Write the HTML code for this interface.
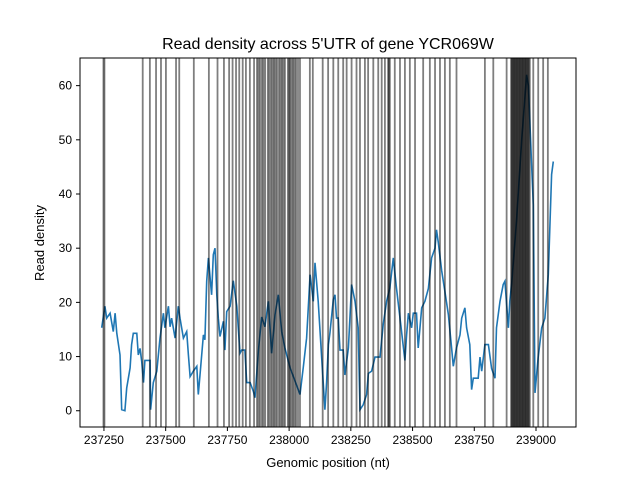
<!DOCTYPE html>
<html><head><meta charset="utf-8"><style>
body{margin:0;background:#fff;}
svg text{font-family:"Liberation Sans","DejaVu Sans",sans-serif;fill:#000;}
</style></head><body>
<svg id="chart" width="640" height="480" xmlns="http://www.w3.org/2000/svg">
<rect width="640" height="480" fill="#fff"/>
<text x="328" y="49" font-size="16" text-anchor="middle">Read density across 5'UTR of gene YCR069W</text>
<text x="328" y="467" font-size="13" text-anchor="middle">Genomic position (nt)</text>
<text transform="translate(44,243) rotate(-90)" font-size="13" text-anchor="middle">Read density</text>
<g id="plot"></g>
</svg>
<script>
const xTicks=[237250,237500,237750,238000,238250,238500,238750,239000];
const yTicks=[0,10,20,30,40,50,60];
const zoomA=[65,75,80,90,100,105,110,120,125,135,140,150,155,160,170,175,180,185,190,195,210,212,220,230,240,250,255,265,270,275,280,285,295,300,310,320,325,330,340,350,355,360,365,370,375,380,385,395,400,405,410,415,420,430,435,440,450,460,470,480,485,495,500,510,520,525,535,545,555,565,575,585,595,605,615,630,645,660,670,680,690,700,705,715,725,735];
const densA=[15.3,19.3,17.1,18,14.6,18,14.3,10.3,0.2,0,4.2,7.9,12.2,14.3,14.3,10.3,11.5,9.1,5.2,9.3,9.3,0.2,5.2,7.3,13.4,18,15.3,19.3,15.5,17.1,15.3,13.4,19.3,17.1,13.4,14.6,10.3,6.3,7.3,8.2,3,6.6,10.3,14,13.1,23.9,28.2,21.4,28.8,30,21.4,17.1,13.7,16.5,11.2,18.3,19.3,24,19.3,10.6,11.2,11.2,5.2,5.2,3.6,2.4,10.9,17.3,15.5,20.2,10.6,17.7,21.4,14.6,11.6,7.9,5.5,3,8.2,13.4,25.1,20.2,27.3,20.2,9.7,0.2];
const zoomB=[5,10,15,25,30,35,40,45,55,60,70,80,90,100,105,115,125,130,140,150,165,175,185,195,205,215,225,240,245,250,260,265,275,280,290,300,310,320,330,335,340,350,360,370,380,385,395,405,410,420,425,435,440,445,460,465,470,480,490,500,510,515,525,535,540,550,555,560,575,590,605,610,620,625,630,640,650,660,670,680,685];
const densB=[5.2,12.2,14.3,20.5,21.4,17.1,17.1,11.2,11.2,6.6,11.6,23.3,20.2,15.3,0.2,1.1,3,6.9,7.3,9.9,9.9,15.9,20.2,22.6,28.2,22.6,17.1,9.3,14,18,15.3,18,18,11.6,19,20.2,22.6,28.2,30,33.4,31.2,25.8,22,17.7,11.6,8.2,11.6,14,17.1,19,15.3,12.2,3.9,6,6,9.9,7.3,12.2,12.2,7.8,6,15.3,20.2,23.3,23.9,15.3,20.2,23.3,35,50,62,60,45.4,38,3.3,9.9,15.3,17.1,25.1,43.6,46];
const positions=zoomA.map(z=>Math.round(237153+1.35*z)).concat(zoomB.map(z=>Math.round(238145+1.35*z)));
const density=densA.concat(densB);
const siteNt=[237248,237252,237407,237436,237461,237481,237501,237542,237555,237614,237675,237710,237736,237757,237771,237785,237798,237812,237825,237841,237858,237870,237876,237882,237890,237896,237903,237914,237920,237927,237933,237939,237945,237951,237959,237965,237971,237977,237983,237995,238000,238004,238010,238016,238022,238028,238036,238044,238084,238096,238136,238158,238179,238199,238219,238233,238253,238273,238287,238307,238320,238341,238361,238375,238388,238401,238404,238408,238428,238449,238469,238489,238510,238543,238570,238591,238611,238631,238651,238678,238793,238827,238881,238899,238902,238905,238908,238911,238914,238917,238920,238923,238926,238929,238932,238935,238938,238941,238944,238947,238950,238953,238956,238959,238962,238965,238968,238971,238975,238989,239009,239029,239048];
const L=80,R=576,T=58,B=427;
const x0=237153,x1=239162,y0=-3.0,y1=65.1;
const sx=v=>L+(v-x0)/(x1-x0)*(R-L);
const sy=v=>B-(v-y0)/(y1-y0)*(B-T);
const NS="http://www.w3.org/2000/svg";
const g=document.getElementById('plot');
function mk(t,a){const e=document.createElementNS(NS,t);for(const k in a)e.setAttribute(k,a[k]);g.appendChild(e);return e;}
const pl=mk('polyline',{points:positions.map((p,i)=>sx(p).toFixed(1)+','+sy(density[i]).toFixed(1)).join(' '),fill:'none',stroke:'#1f77b4','stroke-width':1.6});


siteNt.forEach(n=>{const l=mk('line',{x1:sx(n),x2:sx(n),y1:T,y2:B,stroke:'#000','stroke-opacity':0.5,'stroke-width':1.8});

});
const fr=mk('rect',{x:L,y:T,width:R-L,height:B-T,fill:'none',stroke:'#000','stroke-width':1});


xTicks.forEach(t=>{const x=sx(t);mk('line',{x1:x,x2:x,y1:B,y2:B+4,stroke:'#000'});
const tx=mk('text',{x:x,y:B+17,'font-size':12,'text-anchor':'middle'});tx.textContent=t;

});
yTicks.forEach(t=>{const y=sy(t);mk('line',{x1:L-4,x2:L,y1:y,y2:y,stroke:'#000'});
const tx=mk('text',{x:L-8,y:y+4,'font-size':12,'text-anchor':'end'});tx.textContent=t;

});
</script>
</body></html>
